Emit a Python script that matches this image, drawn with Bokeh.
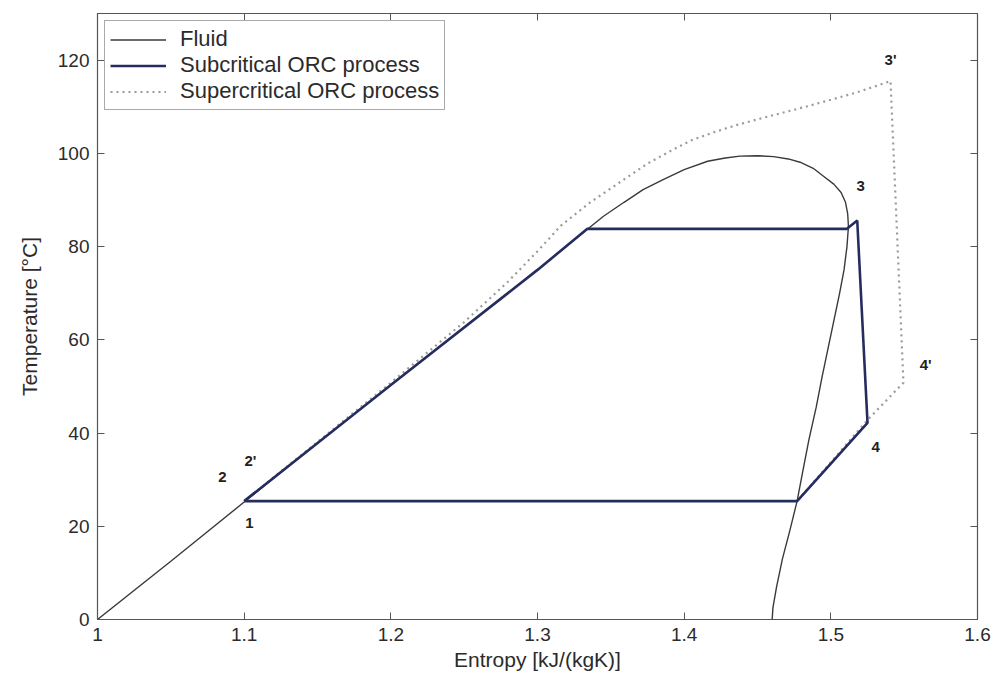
from bokeh.plotting import figure
from bokeh.models import (Range1d, LinearAxis, FixedTicker, CustomJSTickFormatter,
                          Legend, LegendItem, ColumnDataSource, CustomLabelingPolicy)
from bokeh.core.properties import value
from bokeh.embed import file_html
from bokeh.resources import INLINE

# ---- data ----
fluid_s = [1.0, 1.05, 1.1, 1.15, 1.2, 1.25, 1.3, 1.334, 1.345, 1.359, 1.372, 1.386,
           1.40, 1.416, 1.428, 1.438, 1.45, 1.461, 1.471, 1.479, 1.488, 1.495,
           1.502, 1.507, 1.510, 1.5115, 1.512, 1.511, 1.509, 1.506, 1.502, 1.498,
           1.494, 1.490, 1.485, 1.481, 1.477, 1.472, 1.467, 1.463, 1.4605, 1.460]
fluid_T = [0, 12.5, 25.2, 37.8, 50.3, 62.7, 75.0, 83.7, 86.5, 89.5, 92.2, 94.4,
           96.5, 98.3, 99.0, 99.4, 99.5, 99.3, 98.8, 98.1, 96.8, 95.1,
           93.4, 91.6, 89.5, 87.0, 84.3, 80.0, 75.0, 70.0, 64.0, 58.0,
           52.0, 45.5, 38.5, 32.0, 25.4, 19.0, 13.0, 7.0, 2.5, 0]

sub_s = [1.1, 1.2, 1.3, 1.334, 1.511, 1.518, 1.525, 1.477, 1.1]
sub_T = [25.4, 50.3, 75.0, 83.8, 83.8, 85.6, 42.2, 25.4, 25.4]

sup_s = [1.1, 1.2, 1.25, 1.28, 1.30, 1.316, 1.336, 1.359, 1.375, 1.393, 1.405,
         1.42, 1.435, 1.45, 1.467, 1.484, 1.50, 1.518, 1.5407, 1.5495, 1.525, 1.477]
sup_T = [25.4, 50.8, 63.8, 72.5, 79.0, 84.5, 89.5, 94.4, 97.8, 100.9, 102.8,
         104.5, 106.0, 107.3, 108.7, 110.1, 111.5, 113.1, 115.5, 50.8, 42.8, 25.4]

label_text = ["3'", "3", "4'", "4", "2'", "2", "1"]
label_s = [1.5407, 1.5203, 1.5646, 1.5305, 1.1043, 1.0852, 1.1036]
label_T = [120.2, 92.9, 54.6, 37.0, 34.2, 30.5, 20.6]

x_ticks = [1.0, 1.1, 1.2, 1.3, 1.4, 1.5, 1.6]
y_ticks = [0, 20, 40, 60, 80, 100, 120]

FONT = "Liberation Sans"
TXT = "#2b2b2b"

p = figure(width=998, height=680, output_backend="svg", toolbar_location=None,
           x_range=Range1d(1.0, 1.6), y_range=Range1d(0, 130),
           min_border_left=97, min_border_right=21, min_border_top=13,
           min_border_bottom=61, x_axis_location=None, y_axis_location=None)
p.grid.visible = False
p.outline_line_color = "#555555"
p.outline_line_width = 1.2
p.background_fill_color = "white"
p.border_fill_color = "white"

fmt = CustomJSTickFormatter(code="return (Math.round(tick*10)/10).toString();")
hide = CustomLabelingPolicy(code="for (const i of indices) indices.unset(i); return indices;")

def make_axis(loc, ticks, labels=True, label_text_=None):
    ax = LinearAxis(ticker=FixedTicker(ticks=ticks))
    ax.axis_line_color = "#555555"
    ax.major_tick_line_color = "#555555"
    ax.major_tick_in = 7
    ax.major_tick_out = 0
    ax.minor_tick_line_color = None
    if labels:
        ax.formatter = fmt
        ax.major_label_text_font = FONT
        ax.major_label_text_font_size = "19px"
        ax.major_label_text_color = TXT
        ax.major_label_standoff = 8
        if label_text_:
            ax.axis_label = label_text_
            ax.axis_label_text_font = FONT
            ax.axis_label_text_font_size = "21px"
            ax.axis_label_text_font_style = "normal"
            ax.axis_label_text_color = TXT
            ax.axis_label_standoff = 4 if loc == "below" else 14
    else:
        ax.formatter = fmt
        ax.major_label_policy = hide
        ax.major_label_standoff = 0
    p.add_layout(ax, loc)
    return ax

make_axis("below", x_ticks, True, "Entropy [kJ/(kgK)]")
make_axis("left", y_ticks, True, "Temperature [°C]")
make_axis("above", x_ticks, False)
make_axis("right", y_ticks, False)

r_fluid = p.line(fluid_s, fluid_T, line_color="#3a3a3a", line_width=1.4)
r_sup = p.line(sup_s, sup_T, line_color="#9a9a9a", line_width=2.2, line_dash="2 4")
r_sub = p.line(sub_s, sub_T, line_color="#262d5e", line_width=2.6)

src = ColumnDataSource(dict(x=label_s, y=label_T, t=label_text))
p.text(x="x", y="y", text="t", source=src, text_align="center",
       text_baseline="middle", text_font=value(FONT), text_font_size="15px",
       text_font_style="bold", text_color="#222222")

legend = Legend(items=[
    LegendItem(label="Fluid", renderers=[r_fluid]),
    LegendItem(label="Subcritical ORC process", renderers=[r_sub]),
    LegendItem(label="Supercritical ORC process", renderers=[r_sup]),
], location="top_left")
legend.label_text_font = FONT
legend.label_text_font_size = "22px"
legend.label_text_color = TXT
legend.glyph_width = 56
legend.glyph_height = 25
legend.label_height = 25
legend.spacing = 0
legend.padding = 5
legend.margin = 7
legend.label_standoff = 14
legend.border_line_color = "#555555"
legend.border_line_width = 1.2
legend.background_fill_alpha = 1.0
p.add_layout(legend, "center")

open("out.html", "w").write(file_html(p, INLINE))
